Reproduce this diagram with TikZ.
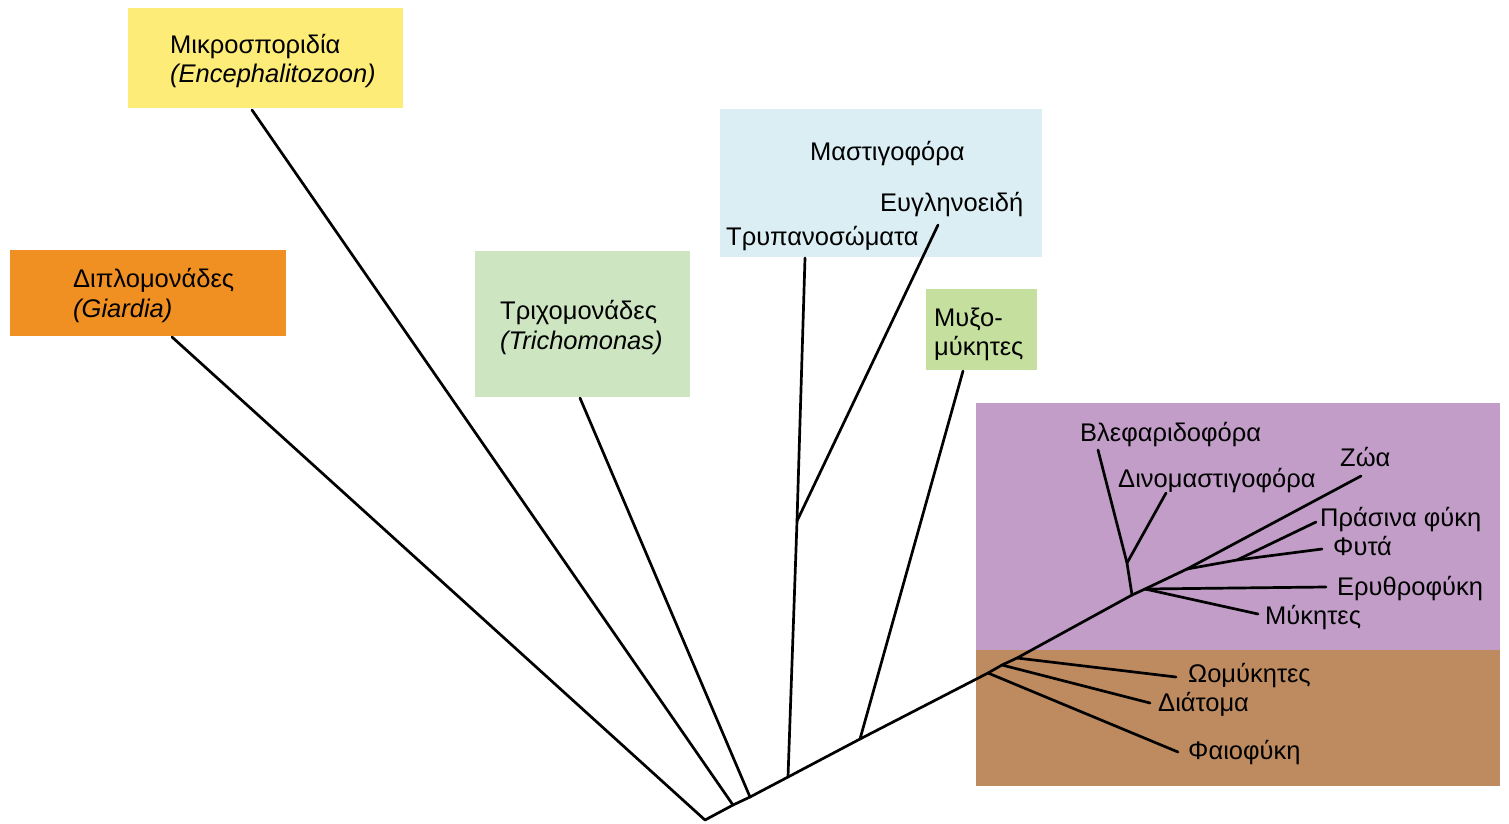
\documentclass[tikz,border=0pt]{standalone}
\usepackage{fontspec}
\setmainfont{Liberation Sans}
\definecolor{cYellow}{RGB}{253,236,120}
\definecolor{cOrange}{RGB}{240,144,34}
\definecolor{cGreenL}{RGB}{205,229,192}
\definecolor{cBlue}{RGB}{218,238,243}
\definecolor{cMyxo}{RGB}{197,224,158}
\definecolor{cPurple}{RGB}{193,157,200}
\definecolor{cBrown}{RGB}{190,139,96}
\tikzset{
  box/.style={draw=none,inner sep=0pt,anchor=north west},
  lbl/.style={inner sep=0pt,anchor=base west,font=\fontsize{25.5}{30}\selectfont},
  br/.style={line width=2.7pt,line cap=round,line join=round}
}
\begin{document}
\begin{tikzpicture}[x=1pt,y=-1pt]
\path[use as bounding box] (0,0) rectangle (1509,823);
% boxes
\node[box,fill=cYellow,minimum width=275,minimum height=100] (bMikro) at (128,8) {};
\node[box,fill=cOrange,minimum width=276,minimum height=86] (bGiardia) at (10,250) {};
\node[box,fill=cGreenL,minimum width=215,minimum height=146] (bTricho) at (475,251) {};
\node[box,fill=cBlue,minimum width=322,minimum height=148] (bMasti) at (720,109) {};
\node[box,fill=cMyxo,minimum width=111,minimum height=81] (bMyxo) at (926,289) {};
\node[box,fill=cPurple,minimum width=524,minimum height=247] (bPurple) at (976,403) {};
\node[box,fill=cBrown,minimum width=524,minimum height=136] (bBrown) at (976,650) {};
% labels
\node[lbl] (tMikro) at (170,53) {Μικροσποριδία};
\node[lbl] (tEnceph) at (170,82) {\itshape (Encephalitozoon)};
\node[lbl] (tGiardia) at (73,287) {Διπλομονάδες};
\node[lbl] (tGiardia2) at (73,317) {\itshape (Giardia)};
\node[lbl] (tTricho) at (500,319) {Τριχομονάδες};
\node[lbl] (tTricho2) at (500,349) {\itshape (Trichomonas)};
\node[lbl] (tMasti) at (810,160) {Μαστιγοφόρα};
\node[lbl] (tEugl) at (880,211) {Ευγληνοειδή};
\node[lbl] (tTrypa) at (726,245) {Τρυπανοσώματα};
\node[lbl] (tMyxo) at (934,326) {Μυξο-};
\node[lbl] (tMyxo2) at (934,355) {μύκητες};
\node[lbl] (tBlef) at (1080,441) {Βλεφαριδοφόρα};
\node[lbl] (tZoa) at (1340,466) {Ζώα};
\node[lbl] (tDino) at (1118,487) {Δινομαστιγοφόρα};
\node[lbl] (tPras) at (1320,526) {Πράσινα φύκη};
\node[lbl] (tFyta) at (1333,555) {Φυτά};
\node[lbl] (tEryth) at (1337,595) {Ερυθροφύκη};
\node[lbl] (tMyk) at (1265,624) {Μύκητες};
\node[lbl] (tOom) at (1188,682) {Ωομύκητες};
\node[lbl] (tDiat) at (1158,711) {Διάτομα};
\node[lbl] (tFaio) at (1188,759) {Φαιοφύκη};
% tree points
\coordinate (root) at (705,820);
\coordinate (n1) at (733,805);
\coordinate (n2) at (750,797);
\coordinate (n3) at (788,777);
\coordinate (n4) at (860,739);
\coordinate (n5) at (988,673);
\coordinate (n6) at (1002,665);
\coordinate (n7) at (1017,658);
\coordinate (n8) at (1132,595);
\coordinate (n9) at (1145,589);
\coordinate (n10) at (1187,569);
\coordinate (nTry) at (797,521);
\coordinate (nBlef) at (1127,563);
\coordinate (nPl) at (1237,560);
% leaf ends
\coordinate (eGiardia) at (172,337);
\coordinate (eMikro) at (252,110);
\coordinate (eTricho) at (580,398);
\coordinate (eTrypa) at (805,258);
\coordinate (eEugl) at (938,225);
\coordinate (eMyxo) at (963,371);
\coordinate (eBlef) at (1098,450);
\coordinate (eDino) at (1166,493);
\coordinate (eZoa) at (1361,476);
\coordinate (ePras) at (1316,522);
\coordinate (eFyta) at (1322,549);
\coordinate (eEryth) at (1326,587);
\coordinate (eMyk) at (1258,614);
\coordinate (eOom) at (1176,677);
\coordinate (eDiat) at (1150,703);
\coordinate (eFaio) at (1178,752);
% branches
\draw[br] (eGiardia) -- (root) -- (n1) -- (n2) -- (n3) -- (n4) -- (n5) -- (n6) -- (n7) -- (n8) -- (n9) -- (n10) -- (eZoa);
\draw[br] (n1) -- (eMikro);
\draw[br] (n2) -- (eTricho);
\draw[br] (n3) -- (nTry) -- (eTrypa);
\draw[br] (nTry) -- (eEugl);
\draw[br] (n4) -- (eMyxo);
\draw[br] (n5) -- (eFaio);
\draw[br] (n6) -- (eDiat);
\draw[br] (n7) -- (eOom);
\draw[br] (n8) -- (nBlef) -- (eBlef);
\draw[br] (nBlef) -- (eDino);
\draw[br] (n9) -- (eEryth);
\draw[br] (n9) -- (eMyk);
\draw[br] (n10) -- (nPl) -- (eFyta);
\draw[br] (nPl) -- (ePras);
\end{tikzpicture}
\end{document}
